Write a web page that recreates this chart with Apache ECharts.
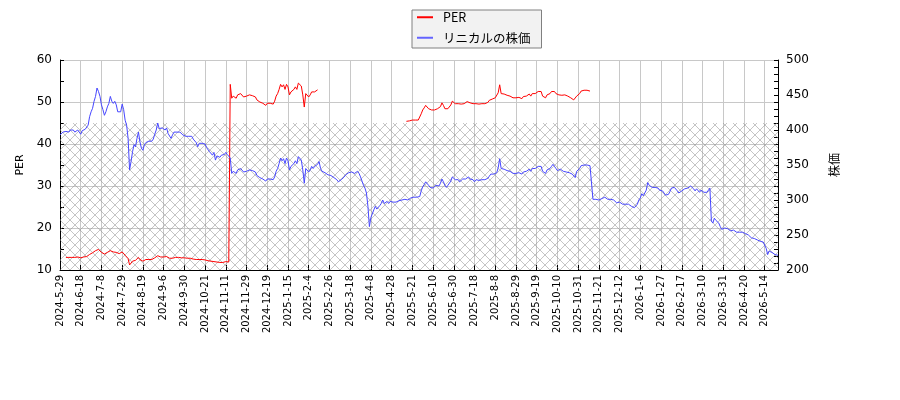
<!DOCTYPE html>
<html>
<head>
<meta charset="utf-8">
<script src="https://cdn.jsdelivr.net/npm/echarts@6/dist/echarts.min.js"></script>
<style>
  body { margin: 0; background: #fff; }
  #chart { width: 900px; height: 400px; }
</style>
</head>
<body>
<div id="chart"></div>
<script>
// 株価 (right axis), one value per trading day from 2024-5-29
var prices = [
  393, 394, 397, 395, 398, 396, 397, 400, 398, 400,
  397, 395, 400, 397, 394, 399, 400, 401, 403, 407,
  419, 426, 431, 441, 448, 460, 455, 448, 436, 429,
  421, 426, 433, 438, 448, 441, 438, 441, 436, 426,
  424, 426, 437, 429, 414, 407, 388, 343, 355, 369,
  379, 376, 388, 397, 383, 374, 371, 379, 382, 380,
  384, 382, 384, 387, 394, 400, 410, 402, 400, 403,
  402, 400, 403, 395, 393, 388, 393, 397, 399, 397,
  398, 397, 395, 393, 395, 391, 393, 391, 391, 391,
  387, 386, 382, 376, 381, 382, 381, 382, 380, 375,
  374, 369, 371, 364, 368, 357, 363, 364, 361, 364,
  362, 365, 368, 365, 364, 360, 338, 341, 343, 338,
  343, 344, 345, 343, 340, 338, 341, 341, 343, 341,
  342, 341, 340, 335, 333, 332, 331, 330, 329, 327,
  330, 329, 330, 330, 329, 333, 341, 345, 352, 360,
  356, 359, 352, 360, 356, 343, 348, 349, 352, 356,
  352, 362, 360, 357, 343, 324, 345, 343, 340, 343,
  348, 345, 348, 349, 351, 355, 345, 341, 340, 339,
  337, 336, 334, 335, 333, 332, 330, 329, 326, 328,
  329, 331, 333, 336, 338, 339, 338, 340, 338, 338,
  340, 341, 338, 333, 327, 321, 317, 310, 291, 262,
  275, 276, 286, 291, 287, 289, 292, 295, 300, 295,
  297, 298, 295, 298, 299, 297, 299, 297, 298, 299,
  300, 300, 299, 301, 301, 300, 302, 303, 303, 304,
  303, 304, 303, 305, 313, 319, 322, 326, 328, 321,
  318, 319, 317, 319, 321, 321, 320, 324, 330, 326,
  321, 318, 321, 323, 327, 333, 331, 329, 327, 329,
  326, 328, 330, 329, 330, 332, 333, 330, 329, 329,
  326, 329, 327, 328, 328, 329, 330, 329, 331, 331,
  334, 337, 336, 337, 338, 339, 346, 359, 345, 344,
  344, 342, 342, 343, 341, 340, 338, 336, 338, 340,
  339, 338, 337, 340, 341, 341, 343, 344, 341, 345,
  344, 345, 347, 348, 349, 348, 341, 343, 338, 343,
  341, 345, 348, 351, 348, 345, 342, 343, 344, 342,
  341, 343, 340, 341, 339, 338, 337, 335, 332, 341,
  343, 345, 349, 351, 350, 350, 350, 349, 349, 350,
  301, 301, 301, 299, 300, 301, 302, 302, 304, 302,
  301, 301, 301, 300, 300, 299, 296, 294, 297, 296,
  294, 294, 294, 292, 294, 292, 291, 292, 289, 291,
  294, 300, 303, 309, 306, 305, 314, 325, 321, 320,
  318, 318, 318, 319, 317, 314, 312, 313, 311, 307,
  306, 308, 312, 317, 318, 318, 316, 313, 310, 311,
  313, 314, 316, 314, 317, 317, 320, 319, 316, 313,
  316, 317, 311, 314, 312, 311, 312, 311, 312, 317,
  270, 267, 274, 271, 270, 267, 262, 258, 260, 260,
  259, 259, 258, 256, 257, 257, 256, 254, 255, 254,
  252, 254, 253, 252, 251, 250, 248, 246, 245, 245,
  244, 243, 242, 241, 241, 240, 238, 231, 222, 227,
  226, 225, 224, 222, 221, 221
];

// PER (left axis), three runs; each starts at the trading-day index in perStart
var perStart = [4, 115, 234];
var perA = [
  13.0, 12.9, 13.0, 13.1, 13.0, 13.1, 13.0, 12.9, 13.1, 13.0,
  12.9, 13.0, 13.1, 13.1, 13.2, 13.3, 13.7, 13.9, 14.1, 14.4,
  14.6, 15.0, 14.9, 14.6, 14.2, 14.0, 13.8, 13.9, 14.2, 14.3,
  14.6, 14.4, 14.3, 14.4, 14.2, 13.9, 13.9, 13.9, 14.3, 14.0,
  13.5, 13.3, 12.7, 11.2, 11.6, 12.1, 12.4, 12.3, 12.7, 13.0,
  12.5, 12.2, 12.1, 12.4, 12.5, 12.4, 12.5, 12.5, 12.5, 12.6,
  12.9, 13.1, 13.4, 13.1, 13.1, 13.2, 13.1, 13.1, 13.2, 12.9,
  12.8, 12.7, 12.8, 13.0, 13.0, 13.0, 13.0, 13.0, 12.9, 12.8,
  12.9, 12.8, 12.8, 12.8, 12.8, 12.8, 12.6, 12.6, 12.5, 12.3,
  12.5, 12.5, 12.5, 12.5, 12.4, 12.3, 12.2, 12.1, 12.1, 11.9,
  12.0, 11.7, 11.9, 11.9, 11.8, 11.9, 11.8, 11.9, 12.0, 11.9,
  11.9
];
var perB = [
  54.2, 50.9, 51.4, 51.7, 50.9, 51.7, 51.8, 52.0, 51.7, 51.2,
  50.9, 51.4, 51.4, 51.7, 51.4, 51.5, 51.4, 51.2, 50.5, 50.2,
  50.0, 49.8, 49.7, 49.5, 49.2, 49.7, 49.5, 49.7, 49.7, 49.5,
  50.2, 51.4, 52.0, 53.0, 54.2, 53.6, 54.1, 53.0, 54.2, 53.6,
  51.7, 52.4, 52.6, 53.0, 53.6, 53.0, 54.5, 54.2, 53.8, 51.7,
  48.8, 52.0, 51.7, 51.2, 51.7, 52.4, 52.0, 52.4, 52.6, 52.9
];
var perC = [
  45.4, 45.2, 45.5, 45.7, 45.7, 45.9, 45.7, 45.9, 45.7, 46.0,
  47.2, 48.1, 48.6, 49.2, 49.5, 48.4, 48.0, 48.1, 47.8, 48.1,
  48.4, 48.4, 48.3, 48.9, 49.8, 49.2, 48.4, 48.0, 48.4, 48.7,
  49.3, 50.2, 49.9, 49.6, 49.3, 49.6, 49.2, 49.5, 49.8, 49.6,
  49.8, 50.1, 50.2, 49.8, 49.6, 49.6, 49.2, 49.6, 49.3, 49.5,
  49.5, 49.6, 49.8, 49.6, 49.9, 49.9, 50.4, 50.8, 50.7, 50.8,
  51.0, 51.1, 52.2, 54.1, 52.0, 51.9, 51.9, 51.6, 51.6, 51.7,
  51.4, 51.3, 51.0, 50.7, 51.0, 51.3, 51.1, 51.0, 50.8, 51.3,
  51.4, 51.4, 51.7, 51.9, 51.4, 52.0, 51.9, 52.0, 52.3, 52.5,
  52.6, 52.5, 51.4, 51.7, 51.0, 51.7, 51.4, 52.0, 52.5, 52.9,
  52.5, 52.0, 51.6, 51.7, 51.9, 51.6, 51.4, 51.7, 51.3, 51.4,
  51.1, 51.0, 50.8, 50.5, 50.1, 51.4, 51.7, 52.0, 52.6, 52.9,
  52.8, 52.8, 52.8, 52.6, 52.6
];

// market closed (JP holidays, year end) inside the range
var holidays = [
  '2024-07-15', '2024-08-12', '2024-09-16', '2024-09-23', '2024-10-14', '2024-11-04',
  '2024-12-31', '2025-01-01', '2025-01-02', '2025-01-03', '2025-01-13', '2025-02-11',
  '2025-02-24', '2025-03-20', '2025-04-29', '2025-05-05', '2025-05-06', '2025-07-21',
  '2025-08-11', '2025-09-15', '2025-09-23', '2025-10-13', '2025-11-03', '2025-11-24',
  '2025-12-31', '2026-01-01', '2026-01-02', '2026-01-12', '2026-02-11', '2026-02-23',
  '2026-03-20', '2026-04-29', '2026-05-04', '2026-05-05', '2026-05-06'
];
var firstDay = '2024-05-29';

var pad = function (n) { return (n < 10 ? '0' : '') + n; };
var dates = [];
var t = Date.parse(firstDay + 'T00:00:00Z');
while (dates.length < prices.length) {
    var d = new Date(t);
    var y = d.getUTCFullYear(), m = d.getUTCMonth() + 1, dd = d.getUTCDate();
    var wd = d.getUTCDay();
    if (wd !== 0 && wd !== 6 && holidays.indexOf(y + '-' + pad(m) + '-' + pad(dd)) < 0) {
        dates.push(y + '-' + m + '-' + dd);
    }
    t += 86400000;
}

var per = dates.map(function () { return null; });
[perA, perB, perC].forEach(function (seg, k) {
    seg.forEach(function (v, j) { per[perStart[k] + j] = v; });
});

// cross hatch for the band under PER 45
function hatch() {
    var c = document.createElement('canvas');
    c.width = 10; c.height = 10;
    var g = c.getContext('2d');
    g.strokeStyle = 'rgba(140,140,140,0.5)';
    g.lineWidth = 1;
    g.beginPath();
    g.moveTo(0, 0); g.lineTo(10, 10);
    g.moveTo(10, 0); g.lineTo(0, 10);
    g.stroke();
    return c;
}

var tickStep = 13;
var axisFont = 'DejaVu Sans';

var myChart = echarts.init(document.getElementById('chart'));
var option = {
    animation: false,
    backgroundColor: '#fff',
    grid: { left: 60, right: 122, top: 60, bottom: 130 },
    legend: {
        left: 412, top: 10, orient: 'vertical',
        backgroundColor: '#f2f2f2', borderColor: '#808080', borderWidth: 1, borderRadius: 0,
        padding: [1, 11, 4, 5], itemGap: 8,
        icon: 'rect', itemWidth: 16, itemHeight: 2,
        textStyle: { fontFamily: 'Noto Sans CJK JP', fontSize: 12.5, color: '#000', padding: [0, 0, 0, 5] },
        data: ['PER', 'リニカルの株価']
    },
    xAxis: {
        type: 'category',
        data: dates,
        boundaryGap: false,
        axisLine: { lineStyle: { color: '#000' } },
        axisTick: { interval: tickStep, inside: true, length: 5, lineStyle: { color: '#000' } },
        axisLabel: { interval: tickStep, rotate: 90, margin: 5, fontSize: 10, fontFamily: axisFont, color: '#000' },
        splitLine: { show: true, interval: tickStep, lineStyle: { color: '#c8c8c8' } }
    },
    yAxis: [
        {
            type: 'value', min: 10, max: 60, interval: 10,
            name: 'PER', nameLocation: 'middle', nameRotate: 90, nameGap: 34,
            nameTextStyle: { fontFamily: axisFont, fontSize: 11, color: '#000' },
            axisLine: { show: true, lineStyle: { color: '#000' } },
            axisTick: { show: true, inside: true, length: 4, lineStyle: { color: '#000' } },
            minorTick: { show: true, splitNumber: 2, length: 4, lineStyle: { color: '#000' } },
            axisLabel: { fontSize: 12, fontFamily: axisFont, color: '#000', margin: 8 },
            splitLine: { show: true, lineStyle: { color: '#c8c8c8' } }
        },
        {
            type: 'value', min: 200, max: 500, interval: 50,
            name: '株価', nameLocation: 'middle', nameRotate: 90, nameGap: 50,
            nameTextStyle: { fontFamily: 'Noto Sans CJK JP', fontSize: 12, color: '#000' },
            axisLine: { show: true, lineStyle: { color: '#000' } },
            axisTick: { show: true, inside: true, length: 4, lineStyle: { color: '#000' } },
            minorTick: { show: true, splitNumber: 5, length: 4, lineStyle: { color: '#000' } },
            axisLabel: { fontSize: 12, fontFamily: axisFont, color: '#000', margin: 8 },
            splitLine: { show: false }
        }
    ],
    series: [
        {
            name: 'PER', type: 'line', yAxisIndex: 0, data: per,
            symbol: 'none', connectNulls: false,
            lineStyle: { color: '#ff0000', width: 1 }, itemStyle: { color: '#ff0000' },
            markArea: {
                silent: true,
                itemStyle: { color: { image: hatch(), repeat: 'repeat' }, opacity: 1 },
                data: [[{ yAxis: 10 }, { yAxis: 45 }]]
            }
        },
        {
            name: 'リニカルの株価', type: 'line', yAxisIndex: 1, data: prices,
            symbol: 'none',
            lineStyle: { color: '#4646ff', width: 1 }, itemStyle: { color: '#6464ff' }
        }
    ]
};
myChart.setOption(option);
</script>
</body>
</html>
